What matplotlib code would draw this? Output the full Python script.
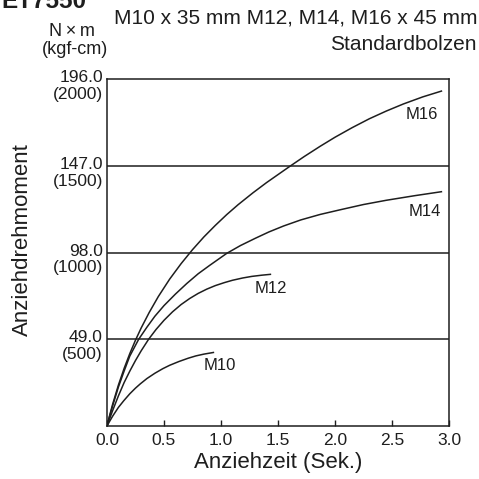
# tightening torque vs tightening time, ET7550 standard bolts

import matplotlib
matplotlib.use('Agg')
import matplotlib.pyplot as plt
import matplotlib.transforms as mtransforms

plt.rcParams['font.family'] = ['Liberation Sans', 'DejaVu Sans']

# curves (time in s, torque in N x m)
m16_x = [0, 0.02, 0.05, 0.1, 0.15, 0.2, 0.25, 0.3, 0.37, 0.45, 0.55, 0.65, 0.75, 0.85, 0.95,
         1.05, 1.15, 1.28, 1.4, 1.5, 1.6, 1.73, 1.87, 2.0, 2.15, 2.3, 2.45, 2.6, 2.77, 2.94]
m16_y = [0, 5.2, 12.4, 23.1, 32.5, 40.9, 48.5, 55.4, 64.1, 73.1, 83.0, 91.7, 99.6, 106.8, 113.3,
         119.4, 125.0, 131.7, 137.5, 142.0, 146.5, 152.2, 158.0, 163.1, 168.5, 173.5, 177.9, 181.9, 185.9, 189.3]

m14_x = [0, 0.02, 0.05, 0.1, 0.15, 0.2, 0.278, 0.35, 0.42, 0.5, 0.6, 0.7, 0.8, 0.9, 1.05,
         1.17, 1.3, 1.42, 1.55, 1.7, 1.87, 2.05, 2.25, 2.45, 2.7, 2.94]
m14_y = [0, 4.8, 11.5, 22.0, 31.0, 39.5, 49.0, 55.8, 62.0, 68.0, 74.5, 80.5, 86.0, 90.7, 97.5,
         101.9, 106.0, 109.6, 113.0, 116.4, 119.5, 122.2, 125.1, 127.5, 130.1, 132.4]

m12_x = [0, 0.02, 0.05, 0.1, 0.15, 0.2, 0.25, 0.3, 0.365, 0.43, 0.5, 0.575, 0.65, 0.725, 0.8,
         0.875, 0.95, 1.03, 1.1, 1.19, 1.27, 1.36, 1.44]
m12_y = [0, 3.6, 8.8, 17.0, 24.5, 31.0, 37.0, 42.5, 49.0, 54.5, 59.7, 64.5, 68.6, 72.0, 74.9,
         77.3, 79.3, 81.0, 82.3, 83.6, 84.5, 85.2, 85.7]

m10_x = [0, 0.02, 0.05, 0.1, 0.146, 0.2, 0.25, 0.292, 0.35, 0.42, 0.49, 0.55, 0.63, 0.713, 0.78, 0.85, 0.94]
m10_y = [0, 2.3, 5.6, 10.5, 14.2, 18.2, 21.4, 23.8, 26.8, 29.8, 32.4, 34.3, 36.4, 38.3, 39.6, 40.6, 41.6]

curve_names = ['M16', 'M14', 'M12', 'M10']
label_x = [2.76, 2.784, 1.436, 0.991]
label_y = [176.2, 121.1, 77.6, 33.9]

y_ticks = [49.0, 98.0, 147.0, 196.0]
y_kgf = ['(500)', '(1000)', '(1500)', '(2000)']
x_ticks = [0.0, 0.5, 1.0, 1.5, 2.0, 2.5, 3.0]

line_col = '#1e1e1e'

fig = plt.figure(figsize=(4.79, 4.79), dpi=100)
ax = fig.add_axes([107 / 479, 53 / 479, 342 / 479, 347 / 479])

for xs, ys in [(m16_x, m16_y), (m14_x, m14_y), (m12_x, m12_y), (m10_x, m10_y)]:
    ax.plot(xs, ys, color=line_col, lw=1.1, solid_capstyle='butt', solid_joinstyle='round')

for name, lx, ly in zip(curve_names, label_x, label_y):
    ax.text(lx, ly, name, fontsize=12, ha='center', va='center', color=line_col)

# horizontal grid lines
for yv in y_ticks[:-1]:
    ax.axhline(yv, color=line_col, lw=1.1)

ax.set_xlim(0, 3.0)
ax.set_ylim(0, 196.0)

for sp in ax.spines.values():
    sp.set_color(line_col)
    sp.set_linewidth(1.1)

ax.set_xticks(x_ticks)
ax.set_xticklabels(['%.1f' % v for v in x_ticks], fontsize=12.5, color=line_col)
ax.tick_params(axis='x', direction='in', length=4, width=1.0, color=line_col, pad=5)
ax.set_yticks([])

# two-line y tick labels: N x m on the grid line, kgf-cm below
trans = mtransforms.blended_transform_factory(ax.transAxes, ax.transData)
for yv, kg in zip(y_ticks, y_kgf):
    ax.annotate('%.1f' % yv, xy=(0, yv), xycoords=trans, xytext=(-3, 1),
                textcoords='offset points', ha='right', va='center', fontsize=12.5, color=line_col)
    ax.annotate(kg, xy=(0, yv), xycoords=trans, xytext=(-3, -11),
                textcoords='offset points', ha='right', va='center', fontsize=12.5, color=line_col)

ax.set_xlabel('Anziehzeit (Sek.)', fontsize=16, color=line_col, labelpad=3)
fig.text(22 / 479, 1 - 240 / 479, 'Anziehdrehmoment', rotation=90, fontsize=16,
         ha='center', va='center', color=line_col)

# header texts
fig.text(1 / 479, 1 - 7.5 / 479, 'ET7550', fontsize=17.5, fontweight='bold',
         ha='left', va='baseline', color=line_col)
fig.text(477 / 479, 1 - 18 / 479, 'M10 x 35 mm M12, M14, M16 x 45 mm', fontsize=15,
         ha='right', va='center', color=line_col)
fig.text(477 / 479, 1 - 45 / 479, 'Standardbolzen', fontsize=15,
         ha='right', va='center', color=line_col)
fig.text(72 / 479, 1 - 31 / 479, 'N\u2009\u00d7\u2009m', fontsize=13, ha='center', va='center', color=line_col)
fig.text(75 / 479, 1 - 50 / 479, '(kgf-cm)', fontsize=13, ha='center', va='center', color=line_col)

plt.savefig('out.png', dpi=100)
